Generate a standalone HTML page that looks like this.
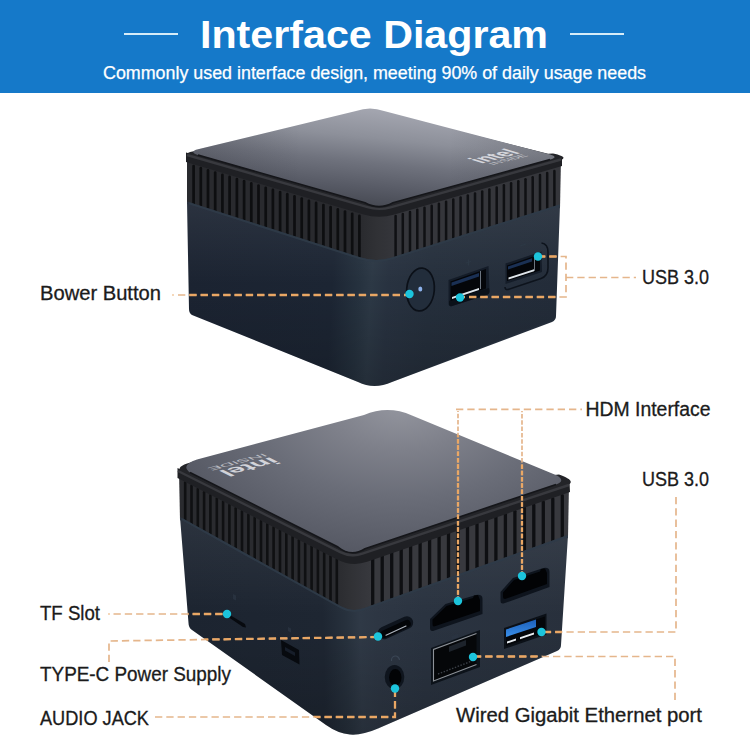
<!DOCTYPE html>
<html><head><meta charset="utf-8"><title>Interface Diagram</title>
<style>html,body{margin:0;padding:0;background:#fff;}body{width:750px;height:750px;overflow:hidden;font-family:"Liberation Sans",sans-serif;}svg{display:block;font-family:"Liberation Sans",sans-serif;}</style>
</head><body>
<svg width="750" height="750" viewBox="0 0 750 750">
<defs>
<linearGradient id="top1" gradientUnits="userSpaceOnUse" x1="378" y1="108" x2="368" y2="208"><stop offset="0" stop-color="#a5a7b1"/><stop offset="0.3" stop-color="#8d909a"/><stop offset="0.55" stop-color="#6f727d"/><stop offset="0.8" stop-color="#575a65"/><stop offset="1" stop-color="#454851"/></linearGradient>
<linearGradient id="top1e" gradientUnits="userSpaceOnUse" x1="190" y1="0" x2="560" y2="0"><stop offset="0" stop-color="#14161c" stop-opacity="0.16"/><stop offset="0.3" stop-color="#14161c" stop-opacity="0"/><stop offset="0.7" stop-color="#14161c" stop-opacity="0"/><stop offset="1" stop-color="#14161c" stop-opacity="0.22"/></linearGradient>
<radialGradient id="top2" gradientUnits="userSpaceOnUse" cx="0" cy="0" r="1" gradientTransform="translate(400 404) scale(250 155)"><stop offset="0" stop-color="#94969f"/><stop offset="0.3" stop-color="#7e808a"/><stop offset="0.6" stop-color="#6a6d78"/><stop offset="1" stop-color="#545762"/></radialGradient>
<linearGradient id="bl1" gradientUnits="userSpaceOnUse" x1="187" y1="0" x2="376" y2="0"><stop offset="0" stop-color="#1a2230"/><stop offset="0.8" stop-color="#1b2432"/><stop offset="0.93" stop-color="#24303d"/><stop offset="1" stop-color="#2a3744"/></linearGradient>
<linearGradient id="br1" gradientUnits="userSpaceOnUse" x1="372" y1="0" x2="560" y2="0"><stop offset="0" stop-color="#2a3744"/><stop offset="0.1" stop-color="#222d3a"/><stop offset="0.3" stop-color="#1e2835"/><stop offset="1" stop-color="#1c2532"/></linearGradient>
<linearGradient id="bl2" gradientUnits="userSpaceOnUse" x1="180" y1="0" x2="354" y2="0"><stop offset="0" stop-color="#19202c"/><stop offset="0.8" stop-color="#1a222f"/><stop offset="0.93" stop-color="#232e3b"/><stop offset="1" stop-color="#293542"/></linearGradient>
<linearGradient id="br2" gradientUnits="userSpaceOnUse" x1="350" y1="0" x2="568" y2="0"><stop offset="0" stop-color="#293542"/><stop offset="0.08" stop-color="#232e3b"/><stop offset="0.3" stop-color="#1f2936"/><stop offset="1" stop-color="#1d2633"/></linearGradient>
<linearGradient id="corner1" gradientUnits="userSpaceOnUse" x1="360" y1="0" x2="396" y2="0"><stop offset="0" stop-color="#292a2e"/><stop offset="0.45" stop-color="#303135"/><stop offset="0.7" stop-color="#323338"/><stop offset="1" stop-color="#35363b"/></linearGradient>
<linearGradient id="corner2" gradientUnits="userSpaceOnUse" x1="336" y1="0" x2="372" y2="0"><stop offset="0" stop-color="#2a2b2f"/><stop offset="0.45" stop-color="#313236"/><stop offset="0.7" stop-color="#34353a"/><stop offset="1" stop-color="#38393e"/></linearGradient>
<linearGradient id="body1" gradientUnits="userSpaceOnUse" x1="187" y1="200" x2="560" y2="220"><stop offset="0" stop-color="#1b2331"/><stop offset="0.40" stop-color="#1c2533"/><stop offset="0.47" stop-color="#25313e"/><stop offset="0.505" stop-color="#2c3845"/><stop offset="0.55" stop-color="#283240"/><stop offset="0.66" stop-color="#252f3c"/><stop offset="1" stop-color="#232c39"/></linearGradient>
<linearGradient id="body2" gradientUnits="userSpaceOnUse" x1="180" y1="500" x2="568" y2="490"><stop offset="0" stop-color="#1c2430"/><stop offset="0.36" stop-color="#1e2632"/><stop offset="0.42" stop-color="#27313d"/><stop offset="0.455" stop-color="#2f3946"/><stop offset="0.50" stop-color="#2d3643"/><stop offset="0.62" stop-color="#2a3340"/><stop offset="1" stop-color="#28303c"/></linearGradient>
<linearGradient id="usbblue" x1="0" y1="0" x2="0" y2="1"><stop offset="0" stop-color="#1c5fb9"/><stop offset="1" stop-color="#3a8fe9"/></linearGradient>
<linearGradient id="vsh" x1="0" y1="0" x2="0" y2="1"><stop offset="0" stop-color="#ffffff" stop-opacity="0.07"/><stop offset="0.45" stop-color="#ffffff" stop-opacity="0"/><stop offset="0.5" stop-color="#000000" stop-opacity="0"/><stop offset="1" stop-color="#000000" stop-opacity="0.18"/></linearGradient>
<clipPath id="devclip"><path d="M186 153 L356 111 Q370 106 384 111 L562 158 L556 318 L392 382 Q374 390 358 382 L189 313 Z"/><path d="M178 469 L364 415 Q388 405 412 415.500 L569 483 L561 647 L378 728.500 Q362 735.500 350 734.500 Q338 733.500 326 725 L189 628 Z"/></clipPath>
</defs>
<rect x="0" y="0" width="750" height="750" fill="#ffffff"/>
<rect x="0" y="0" width="750" height="93" fill="#1579c9"/>
<rect x="124" y="33" width="54" height="2" fill="#d6ecf8"/>
<rect x="570" y="33" width="54" height="2" fill="#d6ecf8"/>
<text x="374.0" y="47.5" font-size="38.5" font-weight="bold" fill="#ffffff" text-anchor="middle" textLength="348.0" lengthAdjust="spacingAndGlyphs">Interface Diagram</text>
<text x="374.5" y="79.0" font-size="17.5" font-weight="normal" fill="#ffffff" text-anchor="middle" textLength="543.0" lengthAdjust="spacingAndGlyphs" stroke="#ffffff" stroke-width="0.25">Commonly used interface design, meeting 90% of daily usage needs</text>
<polygon points="179.0,470.0 352.0,556.0 354.0,615.0 180.0,520.0" fill="#2a2b2f"/>
<polygon points="351.0,556.0 569.0,484.0 568.0,538.0 352.0,615.0" fill="#38393e"/>
<polygon points="336.0,545.0 372.0,545.0 372.0,616.0 336.0,616.0" fill="url(#corner2)"/>
<line x1="185.2" y1="482.6" x2="185.2" y2="520.7" stroke="#0f1012" stroke-width="2.6" stroke-linecap="round"/>
<line x1="191.5" y1="485.8" x2="191.5" y2="524.2" stroke="#0f1012" stroke-width="2.6" stroke-linecap="round"/>
<line x1="197.8" y1="489.0" x2="197.8" y2="527.7" stroke="#0f1012" stroke-width="2.6" stroke-linecap="round"/>
<line x1="204.1" y1="492.2" x2="204.1" y2="531.2" stroke="#0f1012" stroke-width="2.6" stroke-linecap="round"/>
<line x1="210.4" y1="495.4" x2="210.4" y2="534.7" stroke="#0f1012" stroke-width="2.6" stroke-linecap="round"/>
<line x1="216.8" y1="498.6" x2="216.8" y2="538.1" stroke="#0f1012" stroke-width="2.6" stroke-linecap="round"/>
<line x1="223.1" y1="501.8" x2="223.1" y2="541.6" stroke="#0f1012" stroke-width="2.6" stroke-linecap="round"/>
<line x1="229.4" y1="505.0" x2="229.4" y2="545.1" stroke="#0f1012" stroke-width="2.6" stroke-linecap="round"/>
<line x1="235.7" y1="508.2" x2="235.7" y2="548.6" stroke="#0f1012" stroke-width="2.6" stroke-linecap="round"/>
<line x1="242.0" y1="511.4" x2="242.0" y2="552.1" stroke="#0f1012" stroke-width="2.6" stroke-linecap="round"/>
<line x1="248.4" y1="514.6" x2="248.4" y2="555.5" stroke="#0f1012" stroke-width="2.6" stroke-linecap="round"/>
<line x1="254.7" y1="517.8" x2="254.7" y2="559.0" stroke="#0f1012" stroke-width="2.6" stroke-linecap="round"/>
<line x1="261.0" y1="521.0" x2="261.0" y2="562.5" stroke="#0f1012" stroke-width="2.6" stroke-linecap="round"/>
<line x1="267.3" y1="524.2" x2="267.3" y2="566.0" stroke="#0f1012" stroke-width="2.6" stroke-linecap="round"/>
<line x1="273.6" y1="527.4" x2="273.6" y2="569.5" stroke="#0f1012" stroke-width="2.6" stroke-linecap="round"/>
<line x1="280.0" y1="530.6" x2="280.0" y2="572.9" stroke="#0f1012" stroke-width="2.6" stroke-linecap="round"/>
<line x1="286.3" y1="533.8" x2="286.3" y2="576.4" stroke="#0f1012" stroke-width="2.6" stroke-linecap="round"/>
<line x1="292.6" y1="537.0" x2="292.6" y2="579.9" stroke="#0f1012" stroke-width="2.6" stroke-linecap="round"/>
<line x1="298.9" y1="540.2" x2="298.9" y2="583.4" stroke="#0f1012" stroke-width="2.6" stroke-linecap="round"/>
<line x1="305.2" y1="543.4" x2="305.2" y2="586.9" stroke="#0f1012" stroke-width="2.6" stroke-linecap="round"/>
<line x1="311.6" y1="546.6" x2="311.6" y2="590.3" stroke="#0f1012" stroke-width="2.6" stroke-linecap="round"/>
<line x1="317.9" y1="549.8" x2="317.9" y2="593.8" stroke="#0f1012" stroke-width="2.6" stroke-linecap="round"/>
<line x1="324.2" y1="553.0" x2="324.2" y2="597.3" stroke="#0f1012" stroke-width="2.6" stroke-linecap="round"/>
<line x1="330.5" y1="556.2" x2="330.5" y2="600.8" stroke="#0f1012" stroke-width="2.6" stroke-linecap="round"/>
<line x1="336.8" y1="559.4" x2="336.8" y2="604.3" stroke="#0f1012" stroke-width="2.6" stroke-linecap="round"/>
<line x1="372.7" y1="558.4" x2="372.7" y2="604.3" stroke="#0e0f12" stroke-width="3.3" stroke-linecap="round"/>
<line x1="382.2" y1="555.3" x2="382.2" y2="601.0" stroke="#0e0f12" stroke-width="3.3" stroke-linecap="round"/>
<line x1="391.7" y1="552.1" x2="391.7" y2="597.7" stroke="#0e0f12" stroke-width="3.3" stroke-linecap="round"/>
<line x1="401.2" y1="549.0" x2="401.2" y2="594.3" stroke="#0e0f12" stroke-width="3.3" stroke-linecap="round"/>
<line x1="410.6" y1="545.9" x2="410.6" y2="591.0" stroke="#0e0f12" stroke-width="3.3" stroke-linecap="round"/>
<line x1="420.1" y1="542.7" x2="420.1" y2="587.7" stroke="#0e0f12" stroke-width="3.3" stroke-linecap="round"/>
<line x1="429.6" y1="539.6" x2="429.6" y2="584.3" stroke="#0e0f12" stroke-width="3.3" stroke-linecap="round"/>
<line x1="439.1" y1="536.4" x2="439.1" y2="581.0" stroke="#0e0f12" stroke-width="3.3" stroke-linecap="round"/>
<line x1="448.5" y1="533.3" x2="448.5" y2="577.7" stroke="#0e0f12" stroke-width="3.3" stroke-linecap="round"/>
<line x1="458.0" y1="530.1" x2="458.0" y2="574.3" stroke="#0e0f12" stroke-width="3.3" stroke-linecap="round"/>
<line x1="467.5" y1="527.0" x2="467.5" y2="571.0" stroke="#0e0f12" stroke-width="3.3" stroke-linecap="round"/>
<line x1="477.0" y1="523.9" x2="477.0" y2="567.7" stroke="#0e0f12" stroke-width="3.3" stroke-linecap="round"/>
<line x1="486.5" y1="520.7" x2="486.5" y2="564.3" stroke="#0e0f12" stroke-width="3.3" stroke-linecap="round"/>
<line x1="495.9" y1="517.6" x2="495.9" y2="561.0" stroke="#0e0f12" stroke-width="3.3" stroke-linecap="round"/>
<line x1="505.4" y1="514.4" x2="505.4" y2="557.7" stroke="#0e0f12" stroke-width="3.3" stroke-linecap="round"/>
<line x1="514.9" y1="511.3" x2="514.9" y2="554.3" stroke="#0e0f12" stroke-width="3.3" stroke-linecap="round"/>
<line x1="524.4" y1="508.1" x2="524.4" y2="551.0" stroke="#0e0f12" stroke-width="3.3" stroke-linecap="round"/>
<line x1="533.8" y1="505.0" x2="533.8" y2="547.7" stroke="#0e0f12" stroke-width="3.3" stroke-linecap="round"/>
<line x1="543.3" y1="501.9" x2="543.3" y2="544.3" stroke="#0e0f12" stroke-width="3.3" stroke-linecap="round"/>
<line x1="552.8" y1="498.7" x2="552.8" y2="541.0" stroke="#0e0f12" stroke-width="3.3" stroke-linecap="round"/>
<line x1="562.3" y1="495.6" x2="562.3" y2="537.7" stroke="#0e0f12" stroke-width="3.3" stroke-linecap="round"/>
<path d="M180.0 517.0 L340.6 606.2 Q352.0 612.5 364.2 608.1 L568.0 535.0 L561 645 Q561 649 557 651 L378 728.500 Q362 735.500 350 734.500 Q338 733.500 326 725 L192 630 Q188.500 627.500 188.500 623 Z" fill="url(#body2)"/>
<path d="M180.0 517.0 L340.6 606.2 Q352.0 612.5 364.2 608.1 L568.0 535.0 L561 645 Q561 649 557 651 L378 728.500 Q362 735.500 350 734.500 Q338 733.500 326 725 L192 630 Q188.500 627.500 188.500 623 Z" fill="url(#vsh)"/>
<path d="M182.0 519.2 L340.6 607.2 Q352.0 613.5 364.2 609.1 L567.5 536.2" fill="none" stroke="#2f3b48" stroke-width="2" opacity="0.9"/>
<path d="M177.500 468 L351 552 L569.500 482 L570 492 L570.0 492.0 L367.1 561.8 Q352.0 567.0 337.7 559.7 L177.5 478.0 Z" fill="#1f2024"/>
<path d="M199 460.500 Q170 466 184 474.500 L336 551 Q351 562 367 553 L560 488.300 C575 483.500 574 480 559 474.500 L554 475 L412 417 Q388 407 364 417 Z" fill="#232428"/>
<path d="M178.0 471.0 L340.3 552.1 Q351.0 557.5 362.4 553.7 L569.0 485.0" fill="none" stroke="#38393e" stroke-width="2.4"/>
<path d="M197 459.500 Q180 465 190 472.500 L338 547 Q351 557.500 365 548.700 L556 484.500 Q566 481 557 475.500 L412 415.500 Q388 405 364 415 Z" fill="url(#top2)"/>
<path d="M190 472.500 L338 547 Q351 557.500 365 548.700 L556 484.500" fill="none" stroke="#15161a" stroke-width="1.6"/>
<g transform="matrix(-1.62 0.43 -1.0 -0.5 271 457)" fill="#e6e7ec" opacity="0.85" font-weight="bold"><text x="0" y="0" font-size="16" textLength="33" lengthAdjust="spacingAndGlyphs">intel</text><text x="0" y="7.500" font-size="7" font-weight="normal" textLength="35" lengthAdjust="spacingAndGlyphs" opacity="0.8">INSIDE</text></g>
<polygon points="229.0,614.5 245.0,624.0 246.0,627.5 243.0,627.0 229.0,617.5" fill="#070a0f"/>
<path d="M233 594 l3 1.600 l0 5 l-3 -1.600 Z" fill="#2a3542" opacity="0.8"/>
<polygon points="281.0,640.0 299.0,650.0 299.5,664.5 282.0,655.0" fill="#070a0f"/>
<polygon points="285.0,647.0 295.0,652.5 295.0,656.0 285.0,650.5" fill="#161d29"/>
<path d="M288 627 l3 1.600 l0 4 l-3 -1.600 Z" fill="#2a3542" opacity="0.8"/>
<path d="M384 633 L407 622.500" fill="none" stroke="#0e141d" stroke-width="12.5" stroke-linecap="round"/>
<path d="M384.500 634 L407 623.700" fill="none" stroke="#030508" stroke-width="7.5" stroke-linecap="round"/>
<path d="M386 635.200 L406 626" fill="none" stroke="#aeb5bf" stroke-width="1.2" stroke-linecap="round"/>
<ellipse cx="394.500" cy="677" rx="9.800" ry="12" fill="#0f151e"/>
<ellipse cx="395.300" cy="677.500" rx="6.200" ry="8.500" fill="#020305"/>
<path d="M391.500 661 a4 4.500 0 0 1 8 -1" fill="none" stroke="#3a4654" stroke-width="1.2"/>
<path d="M430 619 L445.500 604 L476 595 Q482.500 594 482.500 599 L482.500 614 L433 631 Q430 631.500 430 628 Z" fill="#0e141d"/>
<path d="M432.500 619.500 L446.500 606 L473 598 L474 595.500 L478 595 L480 600 L480 611 L434 626.500 Q432.500 626.500 432.500 624 Z" fill="#020305"/>
<path d="M500.500 592 L513 578 L543.500 568 Q549.500 567 549.500 572 L549.500 587 L503.500 603.500 Q500.500 604 500.500 601 Z" fill="#0e141d"/>
<path d="M503 592.500 L514 580 L540 571.500 L541 569 L545 568.500 L547 573 L547 584 L505 599 Q503 599 503 597 Z" fill="#020305"/>
<polygon points="504.0,628.0 546.5,613.5 546.5,634.5 504.0,649.0" fill="#0b1017"/>
<polygon points="506.0,629.5 545.0,616.5 545.0,632.5 506.0,646.0" fill="#04060a"/>
<polygon points="506.0,629.5 536.0,619.5 536.0,627.0 506.0,637.0" fill="url(#usbblue)"/>
<polygon points="507.0,641.5 516.0,638.5 516.0,640.5 507.0,643.5" fill="#e8edf2"/>
<polygon points="520.0,637.2 534.0,632.5 534.0,634.5 520.0,639.2" fill="#e8edf2"/>
<polygon points="431.0,648.0 480.0,630.0 480.0,667.0 431.0,685.0" fill="#0c1219"/>
<polygon points="433.5,649.5 476.5,633.5 476.5,664.5 433.5,681.0" fill="#050709"/>
<path d="M476.500 633.500 L433.500 649.500 L433.500 681 L476.500 664.500" fill="none" stroke="#8d9298" stroke-width="1.1"/>
<polygon points="449.0,646.5 466.0,640.0 466.0,645.5 449.0,652.0" fill="#1d232b"/>
<path d="M438 674 L472 661" fill="none" stroke="#3a3f46" stroke-width="1.4" stroke-dasharray="1.5 1.5"/>
<path d="M452 636 l6 -2.200 l0 3.500 l-6 2.200 Z" fill="#2a3542" opacity="0.8"/>
<polygon points="187.0,153.0 378.0,209.0 380.0,266.0 187.0,204.0" fill="#292a2e"/>
<polygon points="378.0,209.0 561.0,158.0 560.0,208.0 378.0,266.0" fill="#35363b"/>
<polygon points="360.0,200.0 396.0,200.0 396.0,266.0 360.0,266.0" fill="url(#corner1)"/>
<line x1="193.6" y1="166.1" x2="193.6" y2="205.1" stroke="#0d0e10" stroke-width="2.7" stroke-linecap="round"/>
<line x1="200.8" y1="168.2" x2="200.8" y2="207.4" stroke="#0d0e10" stroke-width="2.7" stroke-linecap="round"/>
<line x1="208.0" y1="170.4" x2="208.0" y2="209.7" stroke="#0d0e10" stroke-width="2.7" stroke-linecap="round"/>
<line x1="215.2" y1="172.6" x2="215.2" y2="212.0" stroke="#0d0e10" stroke-width="2.7" stroke-linecap="round"/>
<line x1="222.4" y1="174.8" x2="222.4" y2="214.3" stroke="#0d0e10" stroke-width="2.7" stroke-linecap="round"/>
<line x1="229.6" y1="176.9" x2="229.6" y2="216.6" stroke="#0d0e10" stroke-width="2.7" stroke-linecap="round"/>
<line x1="236.9" y1="179.1" x2="236.9" y2="218.9" stroke="#0d0e10" stroke-width="2.7" stroke-linecap="round"/>
<line x1="244.1" y1="181.2" x2="244.1" y2="221.2" stroke="#0d0e10" stroke-width="2.7" stroke-linecap="round"/>
<line x1="251.3" y1="183.4" x2="251.3" y2="223.5" stroke="#0d0e10" stroke-width="2.7" stroke-linecap="round"/>
<line x1="258.5" y1="185.6" x2="258.5" y2="225.8" stroke="#0d0e10" stroke-width="2.7" stroke-linecap="round"/>
<line x1="265.7" y1="187.8" x2="265.7" y2="228.1" stroke="#0d0e10" stroke-width="2.7" stroke-linecap="round"/>
<line x1="272.9" y1="189.9" x2="272.9" y2="230.4" stroke="#0d0e10" stroke-width="2.7" stroke-linecap="round"/>
<line x1="280.1" y1="192.1" x2="280.1" y2="232.6" stroke="#0d0e10" stroke-width="2.7" stroke-linecap="round"/>
<line x1="287.3" y1="194.2" x2="287.3" y2="234.9" stroke="#0d0e10" stroke-width="2.7" stroke-linecap="round"/>
<line x1="294.5" y1="196.4" x2="294.5" y2="237.2" stroke="#0d0e10" stroke-width="2.7" stroke-linecap="round"/>
<line x1="301.7" y1="198.6" x2="301.7" y2="239.5" stroke="#0d0e10" stroke-width="2.7" stroke-linecap="round"/>
<line x1="308.9" y1="200.8" x2="308.9" y2="241.8" stroke="#0d0e10" stroke-width="2.7" stroke-linecap="round"/>
<line x1="316.1" y1="202.9" x2="316.1" y2="244.1" stroke="#0d0e10" stroke-width="2.7" stroke-linecap="round"/>
<line x1="323.4" y1="205.1" x2="323.4" y2="246.4" stroke="#0d0e10" stroke-width="2.7" stroke-linecap="round"/>
<line x1="330.6" y1="207.2" x2="330.6" y2="248.7" stroke="#0d0e10" stroke-width="2.7" stroke-linecap="round"/>
<line x1="337.8" y1="209.4" x2="337.8" y2="251.0" stroke="#0d0e10" stroke-width="2.7" stroke-linecap="round"/>
<line x1="345.0" y1="211.6" x2="345.0" y2="253.3" stroke="#0d0e10" stroke-width="2.7" stroke-linecap="round"/>
<line x1="352.2" y1="213.8" x2="352.2" y2="255.6" stroke="#0d0e10" stroke-width="2.7" stroke-linecap="round"/>
<line x1="359.4" y1="215.9" x2="359.4" y2="257.9" stroke="#0d0e10" stroke-width="2.7" stroke-linecap="round"/>
<line x1="395.6" y1="216.0" x2="395.6" y2="257.8" stroke="#0f1013" stroke-width="2.5" stroke-linecap="round"/>
<line x1="402.8" y1="213.9" x2="402.8" y2="255.5" stroke="#0f1013" stroke-width="2.5" stroke-linecap="round"/>
<line x1="410.0" y1="211.9" x2="410.0" y2="253.2" stroke="#0f1013" stroke-width="2.5" stroke-linecap="round"/>
<line x1="417.3" y1="209.8" x2="417.3" y2="250.9" stroke="#0f1013" stroke-width="2.5" stroke-linecap="round"/>
<line x1="424.5" y1="207.8" x2="424.5" y2="248.6" stroke="#0f1013" stroke-width="2.5" stroke-linecap="round"/>
<line x1="431.7" y1="205.8" x2="431.7" y2="246.3" stroke="#0f1013" stroke-width="2.5" stroke-linecap="round"/>
<line x1="438.9" y1="203.7" x2="438.9" y2="244.0" stroke="#0f1013" stroke-width="2.5" stroke-linecap="round"/>
<line x1="446.1" y1="201.7" x2="446.1" y2="241.7" stroke="#0f1013" stroke-width="2.5" stroke-linecap="round"/>
<line x1="453.3" y1="199.6" x2="453.3" y2="239.4" stroke="#0f1013" stroke-width="2.5" stroke-linecap="round"/>
<line x1="460.6" y1="197.6" x2="460.6" y2="237.1" stroke="#0f1013" stroke-width="2.5" stroke-linecap="round"/>
<line x1="467.8" y1="195.5" x2="467.8" y2="234.8" stroke="#0f1013" stroke-width="2.5" stroke-linecap="round"/>
<line x1="475.0" y1="193.5" x2="475.0" y2="232.5" stroke="#0f1013" stroke-width="2.5" stroke-linecap="round"/>
<line x1="482.2" y1="191.5" x2="482.2" y2="230.2" stroke="#0f1013" stroke-width="2.5" stroke-linecap="round"/>
<line x1="489.4" y1="189.4" x2="489.4" y2="227.9" stroke="#0f1013" stroke-width="2.5" stroke-linecap="round"/>
<line x1="496.7" y1="187.4" x2="496.7" y2="225.6" stroke="#0f1013" stroke-width="2.5" stroke-linecap="round"/>
<line x1="503.9" y1="185.3" x2="503.9" y2="223.3" stroke="#0f1013" stroke-width="2.5" stroke-linecap="round"/>
<line x1="511.1" y1="183.3" x2="511.1" y2="221.0" stroke="#0f1013" stroke-width="2.5" stroke-linecap="round"/>
<line x1="518.3" y1="181.2" x2="518.3" y2="218.7" stroke="#0f1013" stroke-width="2.5" stroke-linecap="round"/>
<line x1="525.5" y1="179.2" x2="525.5" y2="216.4" stroke="#0f1013" stroke-width="2.5" stroke-linecap="round"/>
<line x1="532.7" y1="177.2" x2="532.7" y2="214.1" stroke="#0f1013" stroke-width="2.5" stroke-linecap="round"/>
<line x1="540.0" y1="175.1" x2="540.0" y2="211.8" stroke="#0f1013" stroke-width="2.5" stroke-linecap="round"/>
<line x1="547.2" y1="173.1" x2="547.2" y2="209.5" stroke="#0f1013" stroke-width="2.5" stroke-linecap="round"/>
<line x1="554.4" y1="171.0" x2="554.4" y2="207.2" stroke="#0f1013" stroke-width="2.5" stroke-linecap="round"/>
<path d="M187.0 201.5 L359.8 257.3 Q376.0 262.5 392.2 257.4 L560.0 204.5 L556 316 Q556 320 552 322 L392 382 Q374 390 358 382 L192 315 Q189 313 189 309 Z" fill="url(#body1)"/>
<path d="M187.0 201.5 L359.8 257.3 Q376.0 262.5 392.2 257.4 L560.0 204.5 L556 318 L392 382 Q374 390 358 382 L189 313 Z" fill="url(#vsh)"/>
<path d="M189.0 203.2 L359.8 258.3 Q376.0 263.5 392.2 258.4 L559.5 205.5" fill="none" stroke="#2f3b48" stroke-width="2" opacity="0.9"/>
<path d="M186 152.500 L379 206 L562 157 L562 166 L562.0 166.0 L394.4 214.5 Q379.0 219.0 363.7 214.5 L186.0 162.0 Z" fill="#1f2024"/>
<path d="M199 150.500 Q178 153 194 157.500 L363 206.200 Q379 214.500 395 206.200 L553 162.800 C567 159 567 156.500 553 153.500 L548 153.800 L384 113 Q370 108 356 113 Z" fill="#232428"/>
<path d="M187.0 155.0 L367.5 207.2 Q379.0 210.5 390.6 207.3 L561.0 159.5" fill="none" stroke="#38393e" stroke-width="2.4"/>
<path d="M197 149.500 Q189 152 198 155 L365 202.700 Q379 210.500 393 202.700 L550 159.500 Q559 157 550 154.500 L384 111 Q370 106 356 111 Z" fill="url(#top1)"/>
<path d="M197 149.500 Q189 152 198 155 L365 202.700 Q379 210.500 393 202.700 L550 159.500 Q559 157 550 154.500 L384 111 Q370 106 356 111 Z" fill="url(#top1e)"/>
<path d="M198 155 L365 202.700 Q379 210.500 393 202.700 L550 159.500" fill="none" stroke="#15161a" stroke-width="1.6"/>
<g transform="matrix(1.20 -0.32 1.35 0.40 481.5 163.5)" fill="#e6e7ec" opacity="0.85" font-weight="bold"><text x="0" y="0" font-size="16" textLength="33" lengthAdjust="spacingAndGlyphs">intel</text><text x="3" y="6.500" font-size="6.500" font-weight="normal" textLength="29" lengthAdjust="spacingAndGlyphs" opacity="0.8">INSIDE</text></g>
<ellipse cx="420.500" cy="289.500" rx="13.800" ry="21.500" fill="#222d3b" stroke="#0b1018" stroke-width="1.7" transform="rotate(5 420.500 289.500)"/>
<ellipse cx="420.300" cy="289" rx="2" ry="2.600" fill="#8db2ec"/>
<path d="M448.500 280 L488.500 266 L489.500 291 Q489.500 294 486.500 295 L452 306 Q448.500 307 448.500 303 Z" fill="#141c28"/>
<path d="M449 301 L489 288 L489.500 291 Q489.500 294 486.500 295 L452 306 Q449 307 449 303 Z" fill="#0b1119"/>
<polygon points="450.5,281.5 486.0,269.0 486.0,288.5 450.5,301.0" fill="#04060a"/>
<polygon points="451.5,282.5 479.0,273.0 479.0,276.5 451.5,286.0" fill="#1a3054"/>
<polygon points="452.0,297.0 479.0,288.0 479.0,290.0 452.0,299.0" fill="#dfe5eb"/>
<line x1="480.500" y1="271" x2="480.500" y2="289" stroke="#6c7580" stroke-width="1"/>
<path d="M541.500 243 Q548 244 548 252 L548 268 Q548 276 541 278.500 L508 289.500 Q505 290 505 287" fill="none" stroke="#0d131c" stroke-width="1.6"/>
<path d="M505.500 263.500 L541.500 251.500 L542 272 L505.500 284 Z" fill="#141c28"/>
<polygon points="507.0,265.5 540.0,254.0 540.0,270.5 507.0,281.0" fill="#04060a"/>
<polygon points="508.0,266.5 532.0,258.3 532.0,261.5 508.0,269.5" fill="#1a3054"/>
<polygon points="508.5,277.5 534.0,269.3 534.0,271.3 508.5,279.5" fill="#dfe5eb"/>
<line x1="534.500" y1="255" x2="534.500" y2="271" stroke="#6c7580" stroke-width="1"/>
<path d="M466 263 l5 -1.600 M468.500 259.500 l0 6" stroke="#2c3845" stroke-width="1" fill="none"/>
<path d="M520 246 l6 -2" stroke="#2c3845" stroke-width="1" fill="none"/>
<circle cx="173" cy="295" r="1" fill="#e7a664" opacity="0.6"/>
<circle cx="109" cy="614" r="1" fill="#e7a664" opacity="0.6"/>
<g><path d="M178.0 295.0 L409.0 295.0" fill="none" stroke="#e5b68c" stroke-width="1.7" stroke-dasharray="7.3 4" stroke-dashoffset="0"/><path d="M538.0 256.5 L566.0 256.5 L566.0 297.0 L460.0 297.0" fill="none" stroke="#e5b68c" stroke-width="1.7" stroke-dasharray="7.3 4" stroke-dashoffset="0"/><path d="M566.0 277.5 L636.0 277.5" fill="none" stroke="#e5b68c" stroke-width="1.7" stroke-dasharray="7.3 4" stroke-dashoffset="0"/><path d="M456.0 409.3 L582.0 409.3" fill="none" stroke="#e5b68c" stroke-width="1.7" stroke-dasharray="7.3 4" stroke-dashoffset="0"/><path d="M458.0 601.0 L458.0 411.0" fill="none" stroke="#e5b68c" stroke-width="1.7" stroke-dasharray="4.5 1.8" stroke-dashoffset="0"/><path d="M522.0 576.0 L522.0 411.0" fill="none" stroke="#e5b68c" stroke-width="1.7" stroke-dasharray="4.5 1.8" stroke-dashoffset="0"/><path d="M676.0 497.0 L676.0 632.0 L542.0 632.0" fill="none" stroke="#e5b68c" stroke-width="1.7" stroke-dasharray="7.3 4" stroke-dashoffset="0"/><path d="M675.0 700.0 L675.0 656.5 L473.0 656.5" fill="none" stroke="#e5b68c" stroke-width="1.7" stroke-dasharray="7.3 4" stroke-dashoffset="0"/><path d="M113.5 614.0 L226.0 614.0" fill="none" stroke="#e5b68c" stroke-width="1.7" stroke-dasharray="7.3 4" stroke-dashoffset="0"/><path d="M109.0 662.0 L109.0 641.0 L378.0 637.0" fill="none" stroke="#e5b68c" stroke-width="1.7" stroke-dasharray="7.3 4" stroke-dashoffset="0"/><path d="M155.0 717.0 L395.0 717.0 L395.0 689.0" fill="none" stroke="#e5b68c" stroke-width="1.7" stroke-dasharray="7.3 4" stroke-dashoffset="0"/></g>
<g clip-path="url(#devclip)"><path d="M178.0 295.0 L409.0 295.0" fill="none" stroke="#eaa764" stroke-width="2.3" stroke-dasharray="7.3 4" stroke-dashoffset="0"/><path d="M538.0 256.5 L566.0 256.5 L566.0 297.0 L460.0 297.0" fill="none" stroke="#eaa764" stroke-width="2.3" stroke-dasharray="7.3 4" stroke-dashoffset="0"/><path d="M566.0 277.5 L636.0 277.5" fill="none" stroke="#eaa764" stroke-width="2.3" stroke-dasharray="7.3 4" stroke-dashoffset="0"/><path d="M456.0 409.3 L582.0 409.3" fill="none" stroke="#eaa764" stroke-width="2.3" stroke-dasharray="7.3 4" stroke-dashoffset="0"/><path d="M458.0 601.0 L458.0 411.0" fill="none" stroke="#eaa764" stroke-width="2.3" stroke-dasharray="4.5 1.8" stroke-dashoffset="0"/><path d="M522.0 576.0 L522.0 411.0" fill="none" stroke="#eaa764" stroke-width="2.3" stroke-dasharray="4.5 1.8" stroke-dashoffset="0"/><path d="M676.0 497.0 L676.0 632.0 L542.0 632.0" fill="none" stroke="#eaa764" stroke-width="2.3" stroke-dasharray="7.3 4" stroke-dashoffset="0"/><path d="M675.0 700.0 L675.0 656.5 L473.0 656.5" fill="none" stroke="#eaa764" stroke-width="2.3" stroke-dasharray="7.3 4" stroke-dashoffset="0"/><path d="M113.5 614.0 L226.0 614.0" fill="none" stroke="#eaa764" stroke-width="2.3" stroke-dasharray="7.3 4" stroke-dashoffset="0"/><path d="M109.0 662.0 L109.0 641.0 L378.0 637.0" fill="none" stroke="#eaa764" stroke-width="2.3" stroke-dasharray="7.3 4" stroke-dashoffset="0"/><path d="M155.0 717.0 L395.0 717.0 L395.0 689.0" fill="none" stroke="#eaa764" stroke-width="2.3" stroke-dasharray="7.3 4" stroke-dashoffset="0"/></g>
<circle cx="409.5" cy="294.0" r="4.2" fill="#1cc4dc"/>
<circle cx="538.0" cy="256.5" r="4.2" fill="#1cc4dc"/>
<circle cx="460.0" cy="297.5" r="4.2" fill="#1cc4dc"/>
<circle cx="458.0" cy="601.0" r="4.2" fill="#1cc4dc"/>
<circle cx="522.0" cy="576.0" r="4.2" fill="#1cc4dc"/>
<circle cx="541.5" cy="632.0" r="4.2" fill="#1cc4dc"/>
<circle cx="473.0" cy="657.0" r="4.2" fill="#1cc4dc"/>
<circle cx="227.0" cy="614.0" r="4.2" fill="#1cc4dc"/>
<circle cx="378.0" cy="636.5" r="4.2" fill="#1cc4dc"/>
<circle cx="395.0" cy="688.5" r="4.2" fill="#1cc4dc"/>
<text x="40.0" y="300.0" font-size="19.5" font-weight="normal" fill="#1b1b1b" text-anchor="start" textLength="121.0" lengthAdjust="spacingAndGlyphs" stroke="#1b1b1b" stroke-width="0.30">Bower Button</text>
<text x="642.0" y="284.0" font-size="19.5" font-weight="normal" fill="#1b1b1b" text-anchor="start" textLength="67.0" lengthAdjust="spacingAndGlyphs" stroke="#1b1b1b" stroke-width="0.30">USB 3.0</text>
<text x="585.5" y="415.5" font-size="19.5" font-weight="normal" fill="#1b1b1b" text-anchor="start" textLength="125.0" lengthAdjust="spacingAndGlyphs" stroke="#1b1b1b" stroke-width="0.30">HDM Interface</text>
<text x="642.0" y="486.0" font-size="19.5" font-weight="normal" fill="#1b1b1b" text-anchor="start" textLength="67.0" lengthAdjust="spacingAndGlyphs" stroke="#1b1b1b" stroke-width="0.30">USB 3.0</text>
<text x="40.0" y="619.5" font-size="19.5" font-weight="normal" fill="#1b1b1b" text-anchor="start" textLength="60.0" lengthAdjust="spacingAndGlyphs" stroke="#1b1b1b" stroke-width="0.30">TF Slot</text>
<text x="40.0" y="680.5" font-size="19.5" font-weight="normal" fill="#1b1b1b" text-anchor="start" textLength="191.0" lengthAdjust="spacingAndGlyphs" stroke="#1b1b1b" stroke-width="0.30">TYPE-C Power Supply</text>
<text x="40.0" y="725.0" font-size="19.5" font-weight="normal" fill="#1b1b1b" text-anchor="start" textLength="109.0" lengthAdjust="spacingAndGlyphs" stroke="#1b1b1b" stroke-width="0.30">AUDIO JACK</text>
<text x="456.0" y="722.0" font-size="19.5" font-weight="normal" fill="#1b1b1b" text-anchor="start" textLength="246.0" lengthAdjust="spacingAndGlyphs" stroke="#1b1b1b" stroke-width="0.30">Wired Gigabit Ethernet port</text>
</svg>
</body></html>
